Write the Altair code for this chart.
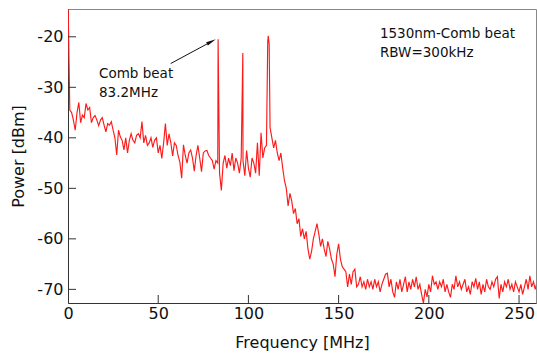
import altair as alt
import pandas as pd

# Spectrum trace, 1 MHz steps from 0 MHz (values in dBm)
power_dbm = [
    -12, -34.5, -35, -36.5, -38.5, -35, -33, -37, -35.5, -36,
    -33.2, -34.5, -34, -37, -36, -35.6, -36.5, -37.6, -36.5, -36,
    -37.5, -38.8, -37.2, -37.5, -36.8, -38.5, -40, -43.4, -38.5, -39.8,
    -40.5, -42.4, -40, -43, -40.5, -39.2, -40.5, -41, -39.5, -39.2,
    -40, -36.8, -41, -39.5, -41.5, -41, -40, -41.9, -40.5, -40,
    -43, -41.5, -44.1, -41, -37.2, -41.5, -39.2, -41, -43.6, -41,
    -41.5, -43.5, -44.8, -48, -41.4, -43.5, -45, -43, -42.4, -44,
    -46.6, -43.5, -41.5, -44, -46.7, -43, -42.6, -42.5, -43.5, -44,
    -44.5, -46.2, -44.5, -45, -47, -50.4, -45, -43.5, -46, -44,
    -45.5, -43, -46.5, -44, -45, -47, -44, -44.5, -47.5, -42.5,
    -46, -47.8, -44, -45, -47, -41, -47.5, -39, -44, -42,
    -41.5, -19.8, -38, -40, -42, -40.5, -43, -44.5, -43, -46,
    -48.5, -50, -53.5, -51, -52.5, -55, -54, -57, -56, -59.5,
    -58, -60, -58.5, -62, -64, -62.5, -60, -58.5, -57, -59,
    -61.5, -60, -62, -63.5, -60.5, -62, -64, -65, -67.5, -63,
    -61, -64, -65.5, -66, -66.5, -69.5, -67, -69, -66.5, -66,
    -69.5,
    -69, -67.5, -69.5, -68.5, -70, -68, -69.5, -68.5, -70, -68,
    -69.5, -68.5, -70.5, -69, -68, -67, -66.8, -69.5, -68, -70.5,
    -71.6, -68.5, -70, -68, -70.5, -69, -67.5, -70.5, -68.5, -70,
    -68, -69.5, -67.5, -70, -69, -71, -72.7, -70, -71.5, -69,
    -70.5, -67.3, -69, -68.5, -70, -68.5, -69.5, -68, -70.5, -69,
    -70.5, -71.6, -69, -70, -67.3, -69.5, -68.5, -70, -69, -68,
    -70.5, -69.5, -71, -68.5, -69.5, -67.8, -70, -68.5, -71, -69,
    -70.5, -68, -69.5, -70, -68.5, -69.5, -68, -67.5, -71.8, -69,
    -70.5, -68.5, -69.5, -68, -70, -69, -70.5, -68.5, -69.5, -70.5,
    -69, -71, -69.5, -68, -70, -67.3, -69.5, -68.5, -70, -68.5,
]
freq_mhz = list(range(len(power_dbm)))

# Narrow beat-note peaks between the 1 MHz samples
peak_freq = [83.2, 96.9, 110.7, 111.5]
peak_power = [-20.5, -23.2, -21.0, -21.5]

x_ticks = [50, 100, 150, 200, 250]
x_labels = [0, 50, 100, 150, 200, 250]
y_ticks = [-20, -30, -40, -50, -60, -70]

ann_freq = [17.2, 172.9]
ann_power = [-28.2, -20.25]
ann_text = ["Comb beat\n83.2MHz", "1530nm-Comb beat\nRBW=300kHz"]

arrow_start = (56.9, -25.3)
arrow_head = (79.5, -20.95)

trace = pd.DataFrame({"f": freq_mhz + peak_freq, "p": power_dbm + peak_power})
trace = trace.sort_values("f").reset_index(drop=True)

FONT = "DejaVu Sans"
xs = alt.Scale(domain=[0, 259.4], nice=False, zero=False)
ys = alt.Scale(domain=[-72.7, -14.5], nice=False, zero=False)

line = alt.Chart(trace).mark_line(color="#ff1a1a", strokeWidth=1.15, clip=True).encode(
    x=alt.X("f:Q", scale=xs,
            axis=alt.Axis(title="Frequency [MHz]", values=x_labels, ticks=False, grid=False,
                          labelFontSize=16, labelPadding=2, titleFontSize=16,
                          titleFontWeight="normal", titlePadding=13,
                          domainColor="#333", labelColor="#111", titleColor="#111",
                          labelFont=FONT, titleFont=FONT, labelFlush=False,
                          labelExpr="toString(datum.value)")),
    y=alt.Y("p:Q", scale=ys,
            axis=alt.Axis(title="Power [dBm]", values=y_ticks, ticks=False, grid=False,
                          labelFontSize=16, labelPadding=5, titleFontSize=16,
                          titleFontWeight="normal", titlePadding=10,
                          domainColor="#333", labelColor="#111", titleColor="#111",
                          labelFont=FONT, titleFont=FONT,
                          labelExpr="toString(datum.value)")),
)

xtick = alt.Chart(pd.DataFrame({"v": x_ticks})).mark_rule(color="#333", strokeWidth=1).encode(
    x=alt.X("v:Q", scale=xs), y=alt.value(294), y2=alt.value(286))
ytick = alt.Chart(pd.DataFrame({"v": y_ticks})).mark_rule(color="#333", strokeWidth=1).encode(
    y=alt.Y("v:Q", scale=ys), x=alt.value(0), x2=alt.value(8))

ann = alt.Chart(pd.DataFrame({"f": ann_freq, "p": ann_power, "t": ann_text})).mark_text(
    align="left", baseline="alphabetic", fontSize=13.5, font=FONT, color="#111",
    lineBreak="\n", lineHeight=18.5).encode(
    x=alt.X("f:Q", scale=xs), y=alt.Y("p:Q", scale=ys), text="t:N")

arrow_df = pd.DataFrame({"f": [arrow_start[0]], "p": [arrow_start[1]],
                         "f2": [arrow_head[0]], "p2": [arrow_head[1]]})
arrow_line = alt.Chart(arrow_df).mark_rule(color="#111", strokeWidth=1).encode(
    x=alt.X("f:Q", scale=xs), y=alt.Y("p:Q", scale=ys), x2="f2:Q", y2="p2:Q")
arrow_tip = alt.Chart(pd.DataFrame({"f": [arrow_head[0]], "p": [arrow_head[1]]})).mark_point(
    shape="M0,-1L0.38,1L-0.38,1Z", filled=True, color="#111", size=100, angle=62, opacity=1).encode(
    x=alt.X("f:Q", scale=xs), y=alt.Y("p:Q", scale=ys))

chart = alt.layer(line, xtick, ytick, ann, arrow_line, arrow_tip).properties(
    width=468, height=294,
    autosize=alt.AutoSizeParams(type="none"),
    padding={"left": 68, "top": 9, "right": 1, "bottom": 50},
    background="white",
).configure_view(stroke="#888", strokeWidth=1)

chart.save("out.html", embed_options={"renderer": "svg", "actions": False})
